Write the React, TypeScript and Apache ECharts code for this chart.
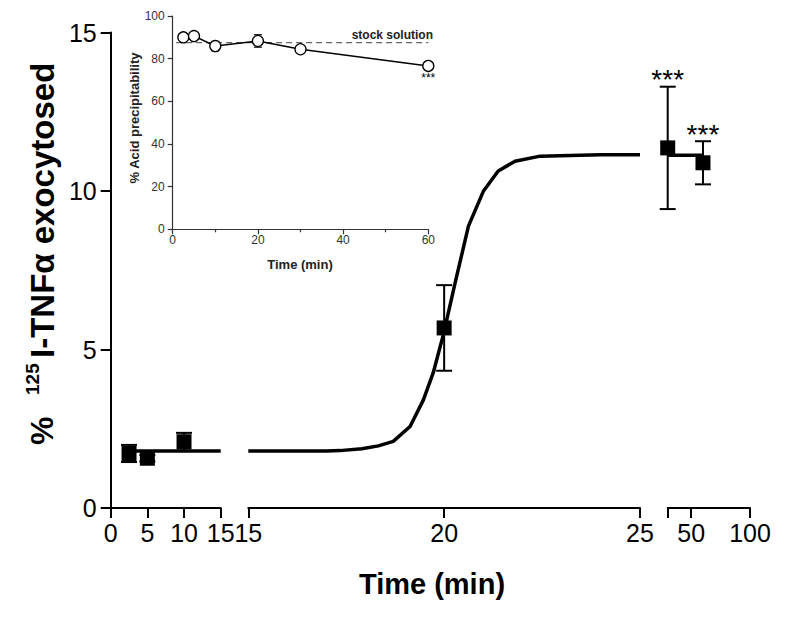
import React, { useEffect, useRef } from "react";
import * as echarts from "echarts";

const FONT = "'Liberation Sans', Arial, Helvetica, sans-serif";

// ---- Main chart data ----
const earlyTimes = [2.5, 5, 10];
const earlyValues = [1.72, 1.57, 2.09];
const earlyErrors = [0.27, 0.1, 0.28];
const earlySig = ["", "", ""];

const midTimes = [20];
const midValues = [5.68];
const midErrors = [1.35];
const midSig = [""];

const lateTimes = [30, 60];
const lateValues = [11.36, 10.89];
const lateErrors = [1.93, 0.68];
const lateSig = ["***", "***"];

const baselineTimes = [2.5, 15];
const baselineValues = [1.8, 1.8];

const fitTimes = [15, 16, 17, 17.34, 17.9, 18.32, 18.7, 19.13, 19.47, 19.72, 19.98, 20.28, 20.62, 21.0, 21.38, 21.81, 22.45, 23.47, 24, 25];
const fitValues = [1.8, 1.8, 1.8, 1.81, 1.87, 1.96, 2.1, 2.57, 3.41, 4.26, 5.47, 7.1, 8.89, 9.99, 10.63, 10.94, 11.1, 11.13, 11.14, 11.14];

const plateauTimes = [30, 60];
const plateauValues = [11.13, 11.13];

const seg3TickValues = [30, 50, 100];
const seg3LabelValues = [50, 100];

// ---- Inset data ----
const insetTimes = [2.5, 5, 10, 20, 30, 60];
const insetValues = [90.0, 90.6, 85.9, 88.3, 84.4, 76.6];
const insetErrors = [0, 0, 2.2, 2.9, 0, 0];
const insetSig = ["", "", "", "", "", "***"];
const stockTimes = [0.8, 60];
const stockValues = [87.5, 87.5];

const pairs = (xs: number[], ys: number[]) => xs.map((x, i) => [x, ys[i]]);
const triples = (xs: number[], ys: number[], es: number[]) => xs.map((x, i) => [x, ys[i], es[i]]);

type EBOpts = { cap: number; lw: number; sigFont: number; sigOffset: number; sigBelow: boolean };

const makeErrorBar = (sigs: string[], o: EBOpts) => (params: any, api: any) => {
  const i = params.dataIndex;
  const x = api.value(0);
  const y = api.value(1);
  const e = api.value(2);
  const c = api.coord([x, y]);
  const t = api.coord([x, y + e]);
  const b = api.coord([x, y - e]);
  const ls = { stroke: "#000", lineWidth: o.lw };
  const children: any[] = [];
  if (e > 0) {
    children.push({ type: "line", shape: { x1: c[0], y1: t[1], x2: c[0], y2: b[1] }, style: ls });
    children.push({ type: "line", shape: { x1: c[0] - o.cap, y1: t[1], x2: c[0] + o.cap, y2: t[1] }, style: ls });
    children.push({ type: "line", shape: { x1: c[0] - o.cap, y1: b[1], x2: c[0] + o.cap, y2: b[1] }, style: ls });
  }
  const s = sigs[i];
  if (s) {
    const ty = o.sigBelow ? c[1] + o.sigOffset : t[1] - o.sigOffset;
    children.push({
      type: "text",
      style: { text: s, x: c[0], y: ty, align: "center", verticalAlign: "middle", fontSize: o.sigFont, fontFamily: FONT, fill: "#000" },
    });
  }
  return { type: "group", children };
};

const mainAxisLine = { show: true, lineStyle: { color: "#000", width: 2 } };
const mainTick = { show: true, length: 10, lineStyle: { color: "#000", width: 2 } };
const mainLabel = { fontSize: 25, color: "#000", fontFamily: FONT, margin: 12, showMinLabel: true, showMaxLabel: true };

const insetAxisLine = { show: true, lineStyle: { color: "#333", width: 1.2 } };
const insetTick = { show: true, length: 5, lineStyle: { color: "#333", width: 1.2 } };
const insetLabel = { fontSize: 12, color: "#333", fontFamily: FONT, showMinLabel: true, showMaxLabel: true };

const MAIN_MB = { cap: 8, lw: 2, sigFont: 28, sigOffset: 7, sigBelow: false };
const squareStyle = { color: "#000", opacity: 1 };

export default function App() {
  const ref = useRef<HTMLDivElement>(null);
  useEffect(() => {
    if (!ref.current) return;
    const chart = echarts.init(ref.current, undefined, { renderer: "svg", width: 800, height: 626 });
    const gridBase = { outerBoundsMode: "none", containLabel: false };
    const option: any = {
      animation: false,
      backgroundColor: "#fff",
      textStyle: { fontFamily: FONT },
      grid: [
        { ...gridBase, left: 110.7, width: 110, top: 32.5, height: 475.5 },
        { ...gridBase, left: 248.3, width: 391.7, top: 32.5, height: 475.5 },
        { ...gridBase, left: 667.7, width: 82.3, top: 32.5, height: 475.5 },
        { ...gridBase, left: 172.7, width: 255.6, top: 16, height: 213.3 },
      ],
      xAxis: [
        { gridIndex: 0, type: "value", min: 0, max: 15, interval: 5, axisLine: mainAxisLine, axisTick: mainTick, axisLabel: mainLabel, splitLine: { show: false } },
        { gridIndex: 1, type: "value", min: 15, max: 25, interval: 5, axisLine: mainAxisLine, axisTick: mainTick, axisLabel: mainLabel, splitLine: { show: false } },
        {
          gridIndex: 2, type: "value", min: 30, max: 100,
          axisLine: mainAxisLine,
          axisTick: { ...mainTick, customValues: seg3TickValues },
          axisLabel: { ...mainLabel, customValues: seg3LabelValues },
          splitLine: { show: false },
        },
        {
          gridIndex: 3, type: "value", min: 0, max: 60, interval: 20,
          axisLine: insetAxisLine, axisTick: insetTick,
          minorTick: { show: true, splitNumber: 2, length: 3, lineStyle: { color: "#333", width: 1.2 } },
          axisLabel: { ...insetLabel, margin: 5 }, splitLine: { show: false },
        },
      ],
      yAxis: [
        { gridIndex: 0, type: "value", min: 0, max: 15, interval: 5, axisLine: mainAxisLine, axisTick: mainTick, axisLabel: { ...mainLabel, margin: 14 }, splitLine: { show: false } },
        { gridIndex: 1, type: "value", min: 0, max: 15, show: false },
        { gridIndex: 2, type: "value", min: 0, max: 15, show: false },
        { gridIndex: 3, type: "value", min: 0, max: 100, interval: 20, axisLine: insetAxisLine, axisTick: insetTick, axisLabel: { ...insetLabel, margin: 8 }, splitLine: { show: false } },
      ],
      series: [
        // segment 1
        { type: "line", xAxisIndex: 0, yAxisIndex: 0, data: pairs(baselineTimes, baselineValues), symbol: "none", lineStyle: { color: "#000", width: 3.5 }, z: 2 },
        { type: "custom", xAxisIndex: 0, yAxisIndex: 0, data: triples(earlyTimes, earlyValues, earlyErrors), renderItem: makeErrorBar(earlySig, MAIN_MB), z: 3 },
        { type: "scatter", xAxisIndex: 0, yAxisIndex: 0, data: pairs(earlyTimes, earlyValues), symbol: "rect", symbolSize: 15, itemStyle: squareStyle, z: 4 },
        // segment 2
        { type: "line", xAxisIndex: 1, yAxisIndex: 1, data: pairs(fitTimes, fitValues), symbol: "none", lineStyle: { color: "#000", width: 3.5 }, z: 2 },
        { type: "custom", xAxisIndex: 1, yAxisIndex: 1, data: triples(midTimes, midValues, midErrors), renderItem: makeErrorBar(midSig, MAIN_MB), z: 3 },
        { type: "scatter", xAxisIndex: 1, yAxisIndex: 1, data: pairs(midTimes, midValues), symbol: "rect", symbolSize: 15, itemStyle: squareStyle, z: 4 },
        // segment 3
        { type: "line", xAxisIndex: 2, yAxisIndex: 2, data: pairs(plateauTimes, plateauValues), symbol: "none", lineStyle: { color: "#000", width: 3.5 }, z: 2 },
        { type: "custom", xAxisIndex: 2, yAxisIndex: 2, data: triples(lateTimes, lateValues, lateErrors), renderItem: makeErrorBar(lateSig, MAIN_MB), z: 3 },
        { type: "scatter", xAxisIndex: 2, yAxisIndex: 2, data: pairs(lateTimes, lateValues), symbol: "rect", symbolSize: 15, itemStyle: squareStyle, z: 4 },
        // inset
        { type: "line", xAxisIndex: 3, yAxisIndex: 3, data: pairs(stockTimes, stockValues), symbol: "none", lineStyle: { color: "#666", width: 1.3, type: [6, 4] }, z: 2 },
        { type: "custom", xAxisIndex: 3, yAxisIndex: 3, data: triples(insetTimes, insetValues, insetErrors), renderItem: makeErrorBar(insetSig, { cap: 4, lw: 1.2, sigFont: 12, sigOffset: 12.5, sigBelow: true }), z: 3 },
        {
          type: "line", xAxisIndex: 3, yAxisIndex: 3, data: pairs(insetTimes, insetValues),
          symbol: "circle", symbolSize: 11, showAllSymbol: true,
          lineStyle: { color: "#000", width: 1.5 },
          itemStyle: { color: "#fff", borderColor: "#000", borderWidth: 1.3, opacity: 1 }, z: 4,
        },
      ],
      graphic: [
        {
          type: "group", x: 53, y: 445, rotation: Math.PI / 2,
          children: [
            { type: "text", x: 0, y: -11, style: { text: "%", fontSize: 32, fontWeight: "bold", fontFamily: FONT, fill: "#000", align: "left", verticalAlign: "middle" } },
            { type: "text", x: 50, y: -21, style: { text: "125", fontSize: 19, fontWeight: "bold", fontFamily: FONT, fill: "#000", align: "left", verticalAlign: "middle" } },
            { type: "text", x: 87, y: -11, style: { text: "I-TNFα exocytosed", fontSize: 33, fontWeight: "bold", fontFamily: FONT, fill: "#000", align: "left", verticalAlign: "middle" } },
          ],
        },
        { type: "text", x: 432, y: 584, style: { text: "Time (min)", fontSize: 29, fontWeight: "bold", fontFamily: FONT, fill: "#000", align: "center", verticalAlign: "middle" } },
        { type: "text", x: 134, y: 118, rotation: Math.PI / 2, style: { text: "% Acid precipitability", fontSize: 13, fontWeight: "bold", fontFamily: FONT, fill: "#222", align: "center", verticalAlign: "middle" } },
        { type: "text", x: 300, y: 264, style: { text: "Time (min)", fontSize: 13, fontWeight: "bold", fontFamily: FONT, fill: "#222", align: "center", verticalAlign: "middle" } },
        { type: "text", x: 433, y: 34.5, style: { text: "stock solution", fontSize: 12, fontWeight: "bold", fontFamily: FONT, fill: "#222", align: "right", verticalAlign: "middle" } },
      ],
    };
    chart.setOption(option);
    return () => chart.dispose();
  }, []);
  return <div ref={ref} style={{ position: "fixed", left: 0, top: 0, width: 800, height: 626, background: "#fff" }} />;
}
